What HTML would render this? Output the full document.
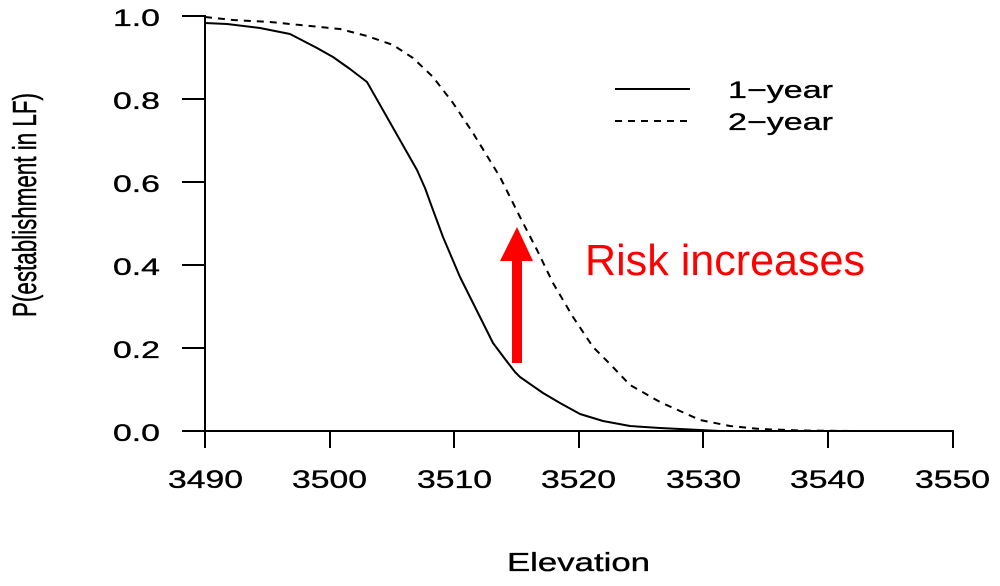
<!DOCTYPE html>
<html>
<head>
<meta charset="utf-8">
<style>
html,body{margin:0;padding:0;background:#fff;}
svg{display:block;}
text{font-family:"Liberation Sans",Arial,sans-serif;fill:#000;}
.t{stroke:#000;stroke-width:0.35;}
</style>
</head>
<body>
<svg width="1000" height="586" viewBox="0 0 1000 586" xmlns="http://www.w3.org/2000/svg">
<rect width="1000" height="586" fill="#fff"/>
<!-- axes -->
<g stroke="#000" stroke-width="2" fill="none" stroke-linecap="square">
<line x1="205" y1="16" x2="205" y2="431"/>
<line x1="205" y1="431" x2="953" y2="431"/>
<line x1="183" y1="16" x2="205" y2="16"/>
<line x1="183" y1="99" x2="205" y2="99"/>
<line x1="183" y1="182" x2="205" y2="182"/>
<line x1="183" y1="265" x2="205" y2="265"/>
<line x1="183" y1="348" x2="205" y2="348"/>
<line x1="183" y1="431" x2="205" y2="431"/>
<line x1="205" y1="431" x2="205" y2="447"/>
<line x1="330" y1="431" x2="330" y2="447"/>
<line x1="454" y1="431" x2="454" y2="447"/>
<line x1="579" y1="431" x2="579" y2="447"/>
<line x1="703" y1="431" x2="703" y2="447"/>
<line x1="828" y1="431" x2="828" y2="447"/>
<line x1="953" y1="431" x2="953" y2="447"/>
</g>
<!-- y tick labels -->
<g font-size="24" text-anchor="end" class="t">
<text x="160" y="26" textLength="47" lengthAdjust="spacingAndGlyphs">1.0</text>
<text x="160" y="109" textLength="47" lengthAdjust="spacingAndGlyphs">0.8</text>
<text x="160" y="192" textLength="47" lengthAdjust="spacingAndGlyphs">0.6</text>
<text x="160" y="275" textLength="47" lengthAdjust="spacingAndGlyphs">0.4</text>
<text x="160" y="358" textLength="47" lengthAdjust="spacingAndGlyphs">0.2</text>
<text x="160" y="441" textLength="47" lengthAdjust="spacingAndGlyphs">0.0</text>
</g>
<!-- x tick labels -->
<g font-size="25" class="t">
<text x="168" y="488" textLength="75" lengthAdjust="spacingAndGlyphs">3490</text>
<text x="292" y="488" textLength="75" lengthAdjust="spacingAndGlyphs">3500</text>
<text x="417" y="488" textLength="75" lengthAdjust="spacingAndGlyphs">3510</text>
<text x="541" y="488" textLength="75" lengthAdjust="spacingAndGlyphs">3520</text>
<text x="666" y="488" textLength="75" lengthAdjust="spacingAndGlyphs">3530</text>
<text x="790" y="488" textLength="75" lengthAdjust="spacingAndGlyphs">3540</text>
<text x="915" y="488" textLength="75" lengthAdjust="spacingAndGlyphs">3550</text>
</g>
<!-- axis titles -->
<text x="507" y="571" font-size="26" textLength="143" lengthAdjust="spacingAndGlyphs" class="t">Elevation</text>
<g transform="translate(36,317) scale(1.33,1) rotate(-90)">
<text x="0" y="0" font-size="25" textLength="224" lengthAdjust="spacingAndGlyphs" class="t">P(establishment in LF)</text>
</g>
<!-- solid curve -->
<polyline fill="none" stroke="#000" stroke-width="2" stroke-linejoin="round"
points="205,23 227,24 260,28 290,34 317,48 333,57 350,69 367,82 392,126 417,170 425,188 433,210 443,237 460,277 480,317 493,343 505,359 515,372 520,377 543,393 560,403 580,414 603,421 630,426 660,428 700,430 720,431 953,431"/>
<!-- dashed curve -->
<polyline fill="none" stroke="#000" stroke-width="2" stroke-dasharray="7,6" stroke-linejoin="round"
points="205,17 233,20 270,22 300,25 340,29 367,36 393,45 413,58 433,77 453,103 473,133 500,177 503,183 520,217 537,250 553,283 573,317 593,347 610,364 630,385 660,402 700,420 730,426 760,429 800,430.5 850,431 945,431"/>
<!-- legend -->
<line x1="615" y1="89" x2="690" y2="89" stroke="#000" stroke-width="2"/>
<line x1="615" y1="121" x2="690" y2="121" stroke="#000" stroke-width="2" stroke-dasharray="7,6"/>
<g font-size="24" class="t">
<text x="728" y="98" textLength="105" lengthAdjust="spacingAndGlyphs">1−year</text>
<text x="728" y="130" textLength="105" lengthAdjust="spacingAndGlyphs">2−year</text>
</g>
<!-- red arrow -->
<rect x="512" y="259" width="10" height="104" fill="#ff0000"/>
<polygon points="500,261 533,261 517,227" fill="#ff0000"/>
<text x="585" y="275" font-size="44" textLength="280" lengthAdjust="spacingAndGlyphs" style="fill:#ff0000">Risk increases</text>
</svg>
</body>
</html>
